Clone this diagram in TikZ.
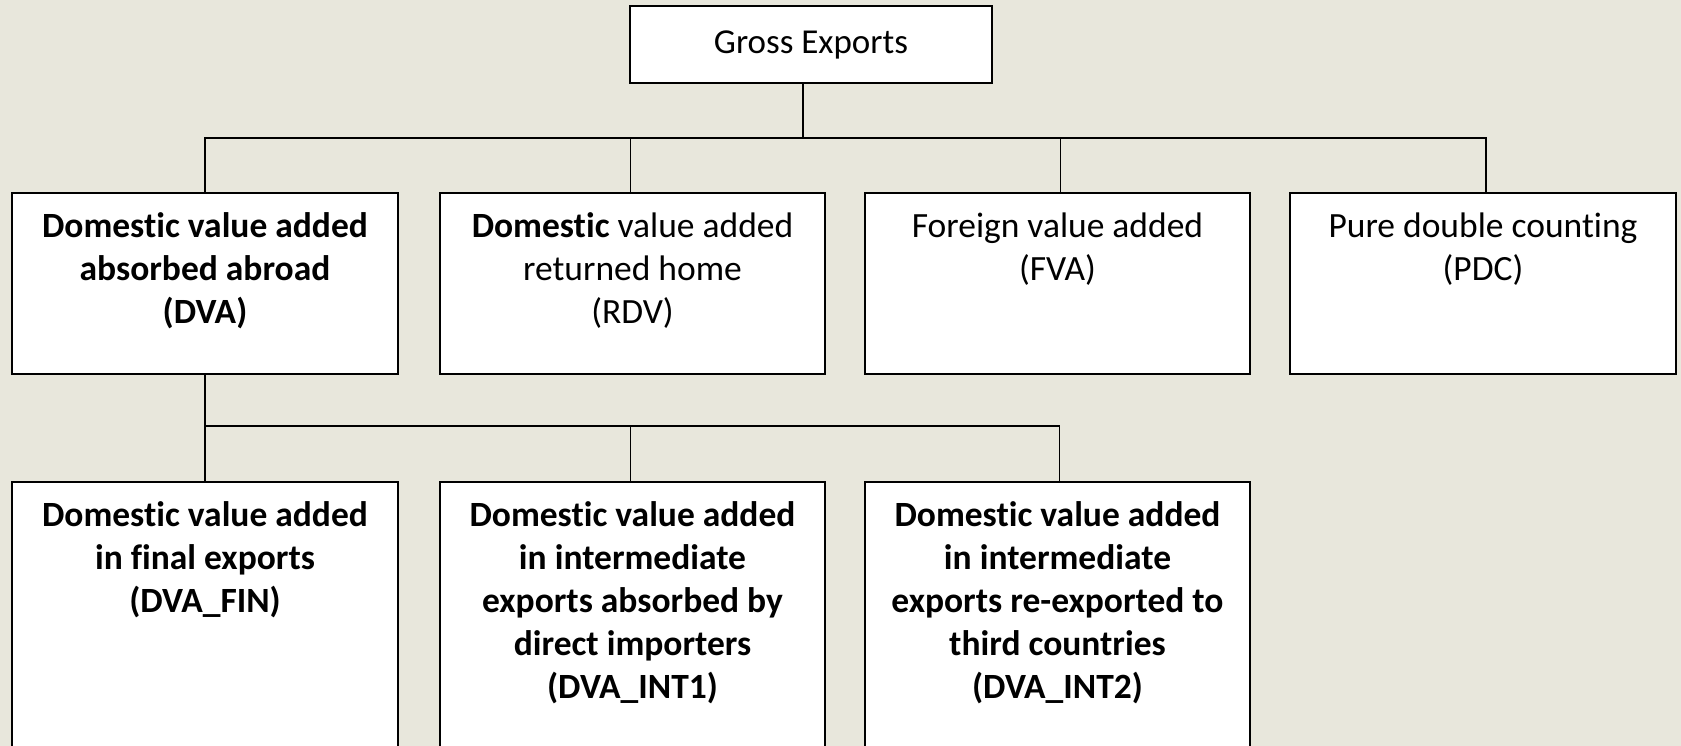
\documentclass[tikz,border=0pt]{standalone}
\usepackage{fontspec}
\setmainfont{Carlito}[Ligatures=NoCommon]
\definecolor{bg}{RGB}{232,231,220}
\tikzset{
  box/.style={draw=black, fill=white, line width=1.4pt, inner sep=0pt, outer sep=0pt},
  conn/.style={draw=black, line width=1.4pt},
}
\newcommand{\boxtext}[3]{\parbox[c][#2][t]{#1}{\centering\fontsize{35.5pt}{43pt}\selectfont\vspace{20pt}#3\par}}
\begin{document}
\begin{tikzpicture}[x=1pt,y=-1pt]
\fill[bg] (0,0) rectangle (1681,746);
\clip (0,0) rectangle (1681,746);
% top
\node[box, minimum width=362pt, minimum height=77pt, font=\fontsize{35pt}{40pt}\selectfont] (ge) at (811,44.5) {\raisebox{2pt}{Gross Exports}};
% level 1
\node[box, anchor=north west] (b1) at (12,193) {\boxtext{386pt}{181pt}{\bfseries Domestic value added\\absorbed abroad\\(DVA)}};
\node[box, anchor=north west] (b2) at (440,193) {\boxtext{385pt}{181pt}{\textbf{Domestic} value added\\returned home\\(RDV)}};
\node[box, anchor=north west] (b3) at (865,193) {\boxtext{385pt}{181pt}{Foreign value added\\(FVA)}};
\node[box, anchor=north west] (b4) at (1290,193) {\boxtext{386pt}{181pt}{Pure double counting\\(PDC)}};
% level 2
\node[box, anchor=north west] (c1) at (12,482) {\boxtext{386pt}{290pt}{\bfseries Domestic value added\\in final exports\\(DVA\_FIN)}};
\node[box, anchor=north west] (c2) at (440,482) {\boxtext{385pt}{290pt}{\bfseries Domestic value added\\in intermediate\\exports absorbed by\\direct importers\\(DVA\_INT1)}};
\node[box, anchor=north west] (c3) at (865,482) {\boxtext{385pt}{290pt}{\bfseries Domestic value added\\in intermediate\\exports re-exported to\\third countries\\(DVA\_INT2)}};
% connectors
\coordinate (bus) at (803,138);
\coordinate (bus2) at (0,426);
\draw[conn] (ge.south -| bus) -- (bus);
\draw[conn] (b1.north) |- (bus) -| ([xshift=3pt]b4.north);
\draw[conn] ([xshift=-2pt]b2.north) -- ([xshift=-2pt]b2.north |- bus);
\draw[conn] ([xshift=3pt]b3.north) -- ([xshift=3pt]b3.north |- bus);
\draw[conn] (b1.south) -- (c1.north);
\draw[conn] (b1.south |- bus2) -| ([xshift=2pt]c3.north);
\draw[conn] ([xshift=-2pt]c2.north) -- ([xshift=-2pt]c2.north |- bus2);
\end{tikzpicture}
\end{document}
